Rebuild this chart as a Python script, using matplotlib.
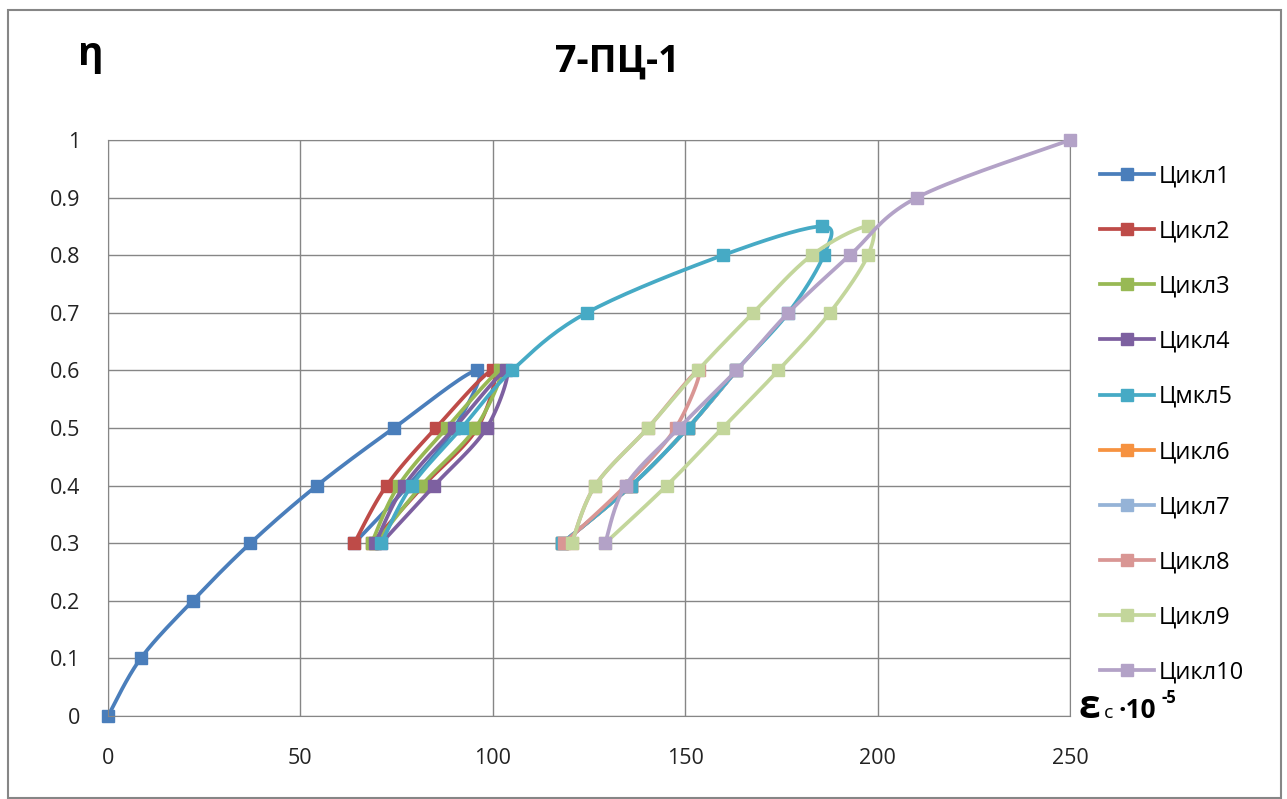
import numpy as np
import matplotlib
matplotlib.use('Agg')
import matplotlib.pyplot as plt
from matplotlib.patches import Rectangle

plt.rcParams['font.family'] = ['Open Sans', 'Noto Sans', 'DejaVu Sans']

# данные циклов (деформация x, уровень нагружения y)
c1_x = [0, 8.5, 22, 37, 54.3, 74.3, 96, 90, 78, 64]
c1_y = [0, 0.1, 0.2, 0.3, 0.4, 0.5, 0.6, 0.5, 0.4, 0.3]
c2_x = [64, 72.4, 85.2, 100, 96, 82, 68.5]
c3_x = [68.5, 75.5, 88, 102, 95.5, 81.5, 69.5]
c4_x = [69.5, 77, 90, 103.5, 98.4, 84.8, 71]
loop_y = [0.3, 0.4, 0.5, 0.6, 0.5, 0.4, 0.3]
c5_x = [71, 78.9, 91.9, 105, 124.4, 159.8, 185.6, 186, 176.8, 163.3, 150.7, 136, 118]
big_y = [0.3, 0.4, 0.5, 0.6, 0.7, 0.8, 0.85, 0.8, 0.7, 0.6, 0.5, 0.4, 0.3]
c6_x = [118, 136, 150.7, 163.3, 150.7, 136, 118]
c7_x = [118, 136, 150.7, 163.3, 150.7, 136, 118]
c8_x = [118.5, 134.5, 147.5, 153.5, 140.3, 126.6, 120.5]
c9_x = [120.5, 126.6, 140.3, 153.3, 167.7, 182.9, 197.5, 197.5, 187.6, 174.2, 159.7, 145.2, 129.2]
c10_x = [129.2, 134.5, 148.4, 163.3, 176.8, 192.8, 210.2, 250]
c10_y = [0.3, 0.4, 0.5, 0.6, 0.7, 0.8, 0.9, 1.0]

names = ['Цикл1', 'Цикл2', 'Цикл3', 'Цикл4', 'Цмкл5',
         'Цикл6', 'Цикл7', 'Цикл8', 'Цикл9', 'Цикл10']
colors = ['#4A7EBB', '#BE4B48', '#98B954', '#7D60A0', '#46AAC5',
          '#F69240', '#95B3D7', '#D99694', '#C3D69B', '#B3A2C7']
series = [(c1_x, c1_y), (c2_x, loop_y), (c3_x, loop_y), (c4_x, loop_y),
          (c5_x, big_y), (c6_x, loop_y), (c7_x, loop_y), (c8_x, loop_y),
          (c9_x, big_y), (c10_x, c10_y)]


def smooth(x, y, n=20):
    # сглаживание как в Excel (кривые Безье через точки)
    p = np.column_stack([x, y]).astype(float)
    out = [p[0]]
    t = np.linspace(0, 1, n)[1:, None]
    for i in range(len(p) - 1):
        p0 = p[i - 1] if i > 0 else p[i]
        p3 = p[i + 2] if i + 2 < len(p) else p[i + 1]
        k1 = p[i] + (p[i + 1] - p0) / 6
        k2 = p[i + 1] - (p3 - p[i]) / 6
        seg = (1 - t) ** 3 * p[i] + 3 * (1 - t) ** 2 * t * k1 + 3 * (1 - t) * t ** 2 * k2 + t ** 3 * p[i + 1]
        out.extend(seg)
    out = np.array(out)
    return out[:, 0], out[:, 1]


fig = plt.figure(figsize=(12.87, 7.99), dpi=100)
fig.patches.append(Rectangle((8 / 1287, 1 / 799), 1273 / 1287, 788 / 799,
                             transform=fig.transFigure, fill=False,
                             edgecolor='#868686', linewidth=1.5))
ax = fig.add_axes([108 / 1287, 1 - 716 / 799, 962 / 1287, 576 / 799])

for i, (xs, ys) in enumerate(series):
    z = 2 + i
    if names[i] in ('Цикл6', 'Цикл7'):
        z = 1
    sx, sy = smooth(xs, ys)
    ax.plot(sx, sy, color=colors[i], lw=2.7, zorder=z, solid_capstyle='round')
    ax.plot(xs, ys, ls='none', marker='s', ms=8, color=colors[i], zorder=z,
            clip_on=False)
    ax.plot([], [], color=colors[i], lw=2.7, marker='s', ms=8, label=names[i])

ax.set_xlim(0, 250)
ax.set_ylim(0, 1)
ax.set_xticks(np.arange(0, 251, 50))
ax.set_yticks(np.arange(0, 1.01, 0.1))
ax.set_yticklabels(['0', '0.1', '0.2', '0.3', '0.4', '0.5', '0.6', '0.7', '0.8', '0.9', '1'])
ax.grid(True, color='#868686', lw=1)
ax.set_axisbelow(True)
for s in ax.spines.values():
    s.set_color('#868686')
ax.tick_params(length=0, labelsize=15.5, colors='#222222')
ax.tick_params(axis='y', pad=20)
ax.tick_params(axis='x', pad=23)

ax.legend(loc='center left', bbox_to_anchor=(1100 / 1287, 1 - 424.5 / 799),
          bbox_transform=fig.transFigure, frameon=False, fontsize=17,
          handlelength=2.3, handletextpad=0.2, labelspacing=1.32,
          borderpad=0, borderaxespad=0)

fig.text(617 / 1287, 1 - 62 / 799, '7-ПЦ-1', fontsize=27, fontweight='bold',
         ha='center', va='center')
fig.text(78 / 1287, 1 - 54 / 799, 'η', fontsize=28, fontweight='bold',
         ha='left', va='center')
# подпись оси x: εc ·10^-5
fig.text(1079 / 1287, 1 - 718 / 799, 'ε', fontsize=28, fontweight='bold',
         ha='left', va='baseline')
fig.text(1104 / 1287, 1 - 718 / 799, 'c', fontsize=14,
         ha='left', va='baseline')
fig.text(1119 / 1287, 1 - 718 / 799, '·10', fontsize=19, fontweight='bold',
         ha='left', va='baseline')
fig.text(1162 / 1287, 1 - 703 / 799, '-5', fontsize=12, fontweight='bold',
         ha='left', va='baseline')

fig.savefig('out.png', dpi=100)
